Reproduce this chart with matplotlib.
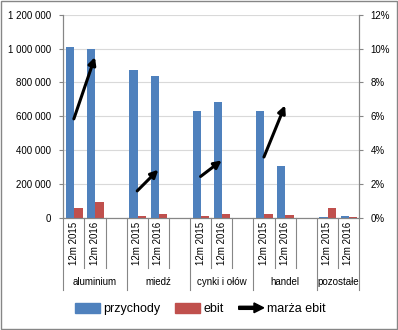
import numpy as np
import matplotlib
matplotlib.use("Agg")
import matplotlib.pyplot as plt
import matplotlib.patches as mpatches
from matplotlib.legend_handler import HandlerPatch
from matplotlib.ticker import FuncFormatter, MultipleLocator

plt.rcParams["font.family"] = ["Liberation Sans", "DejaVu Sans"]

# data
groups = ["aluminium", "miedź", "cynki i ołów", "handel", "pozostałe"]
periods = ["12m 2015", "12m 2016"]
przychody = [1008000, 996000, 873000, 838000, 632000, 685000, 632000, 307000, 5000, 12000]
ebit = [59000, 94000, 12000, 24000, 12000, 24000, 24000, 18000, 59000, 5000]
marza = [5.85, 9.5, 1.6, 2.85, 2.45, 3.4, 3.6, 6.65, np.nan, np.nan]  # %

blue = "#4F81BD"
red = "#C0504D"
axis_col = "#868686"

# slot positions: each group has 2 periods + 1 empty slot (the last group has none)
pos = []
for g in range(len(groups)):
    pos += [3 * g, 3 * g + 1]
pos = np.array(pos, dtype=float)
n_slots = 3 * len(groups) - 1

fig = plt.figure(figsize=(3.98, 3.30), dpi=100)
ax = fig.add_axes([0.159, 0.3394, 0.743, 0.6161])
ax2 = ax.twinx()

bw = 0.39
ax.bar(pos - bw / 2 + 0.02, przychody, bw, color=blue, zorder=3)
ax.bar(pos + bw / 2 + 0.02, ebit, bw, color=red, zorder=3)

ax.set_xlim(-0.5, n_slots - 0.5)
ax.set_ylim(0, 1200000)
ax.yaxis.set_major_locator(MultipleLocator(200000))
ax.yaxis.set_major_formatter(FuncFormatter(lambda v, p: f"{int(v):,}".replace(",", " ")))
ax.grid(axis="y", color="#D9D9D9", lw=0.8, zorder=0)
ax.set_axisbelow(True)
ax.set_xticks([])

ax2.set_ylim(0, 0.12)
ax2.yaxis.set_major_locator(MultipleLocator(0.02))
ax2.yaxis.set_major_formatter(FuncFormatter(lambda v, p: f"{v * 100:.0f}%"))

for a in (ax, ax2):
    a.spines["top"].set_visible(False)
    for s in ("left", "right", "bottom"):
        a.spines[s].set_color(axis_col)
        a.spines[s].set_linewidth(0.8)
    a.tick_params(axis="y", labelsize=7, length=3, width=0.8, color=axis_col, pad=5.5)

# margin arrows (2015 -> 2016 within each group)
for g in range(len(groups)):
    m0, m1 = marza[2 * g], marza[2 * g + 1]
    if np.isnan(m0) or np.isnan(m1):
        continue
    x0, x1 = pos[2 * g], pos[2 * g + 1]
    ax2.annotate("", xy=(x1, m1 / 100), xytext=(x0, m0 / 100),
                 arrowprops=dict(arrowstyle="-|>", color="black", lw=2.2,
                                 mutation_scale=11, shrinkA=0, shrinkB=0),
                 zorder=5)

# category axis labels and dividers
trans = ax.get_xaxis_transform()
for i, x in enumerate(pos):
    ax.text(x, -0.02, periods[i % 2], rotation=90, ha="center", va="top",
            fontsize=7, transform=trans)
for g, name in enumerate(groups):
    base = 3 * g
    center = base + 1 if g < len(groups) - 1 else base + 0.5
    ax.text(center, -0.315, name, ha="center", va="center", fontsize=7, transform=trans)
    ax.plot([base - 0.5, base - 0.5], [0, -0.354], color=axis_col, lw=0.8,
            transform=trans, clip_on=False)
    ax.plot([base + 0.5, base + 0.5], [0, -0.246], color=axis_col, lw=0.8,
            transform=trans, clip_on=False)
    if g < len(groups) - 1:
        ax.plot([base + 1.5, base + 1.5], [0, -0.246], color=axis_col, lw=0.8,
                transform=trans, clip_on=False)
ax.plot([n_slots - 0.5] * 2, [0, -0.354], color=axis_col, lw=0.8,
        transform=trans, clip_on=False)


class ArrowHandler(HandlerPatch):
    def create_artists(self, legend, orig_handle, xdescent, ydescent, width,
                       height, fontsize, trans):
        p = mpatches.FancyArrow(-xdescent, height / 2 - ydescent, width, 0,
                                width=2.2, head_width=7, head_length=7,
                                length_includes_head=True, color="black")
        p.set_transform(trans)
        return [p]


handles = [mpatches.Patch(color=blue), mpatches.Patch(color=red),
           mpatches.FancyArrow(0, 0, 1, 0)]
fig.legend(handles, ["przychody", "ebit", "marża ebit"], loc="center",
           bbox_to_anchor=(0.503, 0.064), ncol=3, frameon=False, fontsize=9,
           handlelength=2.0, handleheight=0.9, handletextpad=0.25, columnspacing=1.2,
           handler_map={mpatches.FancyArrow: ArrowHandler()})

fig.patches.append(mpatches.Rectangle((0.002, 0.003), 0.995, 0.994, transform=fig.transFigure,
                                      fill=False, edgecolor=axis_col, lw=1))

fig.savefig("out.png", dpi=100)
